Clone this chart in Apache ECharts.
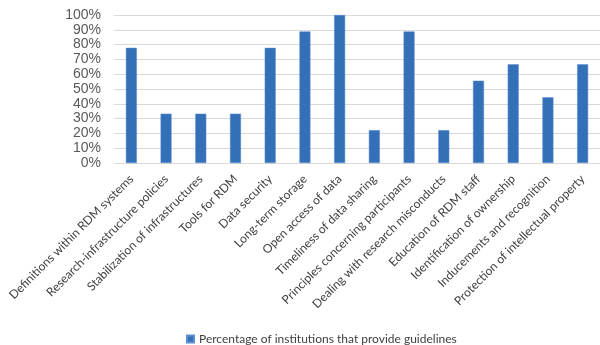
<!DOCTYPE html>
<html><head><meta charset="utf-8">
<script src="https://cdn.jsdelivr.net/npm/echarts@6/dist/echarts.min.js"></script>
<style>html,body{margin:0;padding:0;background:#fff}#c{width:600px;height:345px}</style>
</head><body><div id="c"></div>
<script>
const categories = ["Definitions within RDM systems","Research-infrastructure policies","Stabilization of infrastructures","Tools for RDM","Data security","Long-term storage","Open access of data","Timeliness of data sharing","Principles concerning participants","Dealing with research misconducts","Education of RDM staff","Identification of ownership","Inducements and recognition","Protection of intellectual property"];
const values = [77.8,33.3,33.3,33.3,77.8,88.9,100,22.2,88.9,22.2,55.6,66.7,44.4,66.7];
const yTicks = [0,10,20,30,40,50,60,70,80,90,100];
const seriesName = "Percentage of institutions that provide guidelines";
const chart = echarts.init(document.getElementById('c'), null, {renderer:'canvas'});
chart.setOption({
  animation:false,
  grid:{left:114, top:15, width:493, height:148, containLabel:false},
  legend:{top:328, left:181, itemWidth:7, itemHeight:7, icon:'rect', itemGap:4,
    textStyle:{fontFamily:'Lato', fontSize:12, color:'#404040'}},
  xAxis:{type:'category', data:categories,
    axisLine:{show:true, lineStyle:{color:'#d9d9d9'}}, axisTick:{show:false},
    axisLabel:{rotate:45, interval:0, margin:14, fontFamily:'Lato', fontSize:12, color:'#404040'}},
  yAxis:{type:'value', min:0, max:100, interval:10,
    axisLine:{show:false}, axisTick:{show:false},
    splitLine:{lineStyle:{color:'#d9d9d9', width:1}},
    axisLabel:{margin:13, fontFamily:'Liberation Sans', fontSize:14, color:'#595959', formatter:v=>v+'%'}},
  series:[{name:seriesName, type:'bar', data:values, barWidth:11,
    itemStyle:{color:'#3470b8', borderColor:'#5b8fd0', borderWidth:0.5}}]
});
</script></body></html>
